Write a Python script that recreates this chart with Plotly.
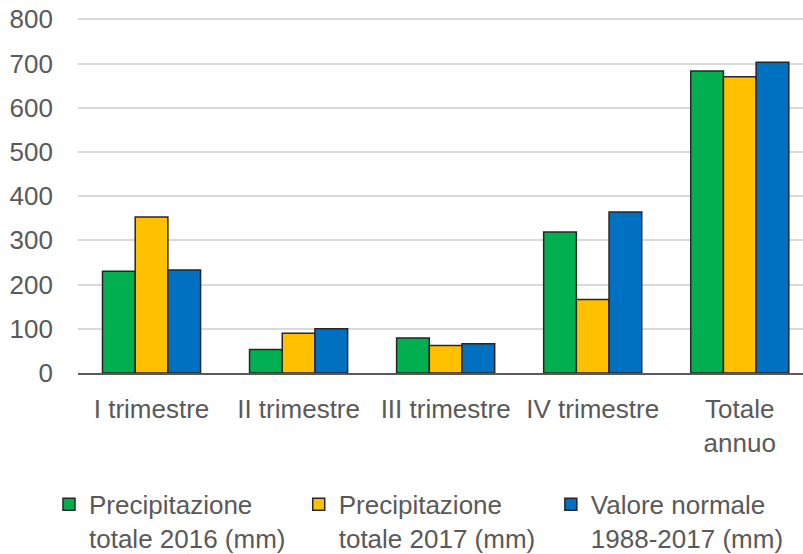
import plotly.graph_objects as go

categories = ["I trimestre", "II trimestre", "III trimestre", "IV trimestre", "Totale<br>annuo"]
series_names = ["Precipitazione<br>totale 2016 (mm)", "Precipitazione<br>totale 2017 (mm)", "Valore normale<br>1988-2017 (mm)"]
prec_2016 = [230, 53, 79, 319, 683]
prec_2017 = [353, 90, 62, 166, 670]
normale = [233, 100, 66, 364, 703]
colors = ["#00B050", "#FFC000", "#0070C0"]
y_ticks = [0, 100, 200, 300, 400, 500, 600, 700, 800]

FONT = "Liberation Sans, Arial, sans-serif"
GRAY = "#595959"
FS = 26

W, H = 803, 554
legend_names = ["legend", "legend2", "legend3"]
legend_x = [0.061, 0.372, 0.686]

fig = go.Figure()
for name, vals, col, lg in zip(series_names, [prec_2016, prec_2017, normale], colors, legend_names):
    fig.add_trace(go.Bar(
        x=list(range(len(categories))), y=vals, name=name, legend=lg,
        marker=dict(color=col, line=dict(color="#262626", width=1.5)),
    ))

legend_common = dict(
    orientation="h", xref="container", yref="container",
    y=0.132, xanchor="left", yanchor="top",
    valign="top", font=dict(family=FONT, size=FS, color=GRAY),
    itemclick=False, bgcolor="rgba(0,0,0,0)",
)

fig.update_layout(
    width=W, height=H,
    margin=dict(l=78, r=0, t=18, b=181, autoexpand=False),
    paper_bgcolor="white", plot_bgcolor="white",
    barmode="group", bargap=0.333, bargroupgap=0,
    font=dict(family=FONT, size=FS, color=GRAY),
    showlegend=True,
    legend=dict(x=legend_x[0], **legend_common),
    legend2=dict(x=legend_x[1], **legend_common),
    legend3=dict(x=legend_x[2], **legend_common),
    xaxis=dict(
        range=[-0.5, 4.43], tickmode="array",
        tickvals=list(range(len(categories))), ticktext=categories,
        showgrid=False, showline=True, linecolor="#595959", linewidth=1.5,
        ticks="", zeroline=False, fixedrange=True, ticklabelstandoff=12,
        tickfont=dict(family=FONT, size=FS, color=GRAY),
    ),
    yaxis=dict(
        range=[0, 803], tickmode="array", tickvals=y_ticks,
        showgrid=True, gridcolor="#D9D9D9", gridwidth=1.5,
        zeroline=False, ticks="", ticklabelstandoff=24,
        ticklabeloverflow="allow",
        tickfont=dict(family=FONT, size=FS, color=GRAY), fixedrange=True,
    ),
)

fig.write_html(
    "out.html",
    config={"displayModeBar": False},
    post_script="document.body.style.margin='0';",
)
